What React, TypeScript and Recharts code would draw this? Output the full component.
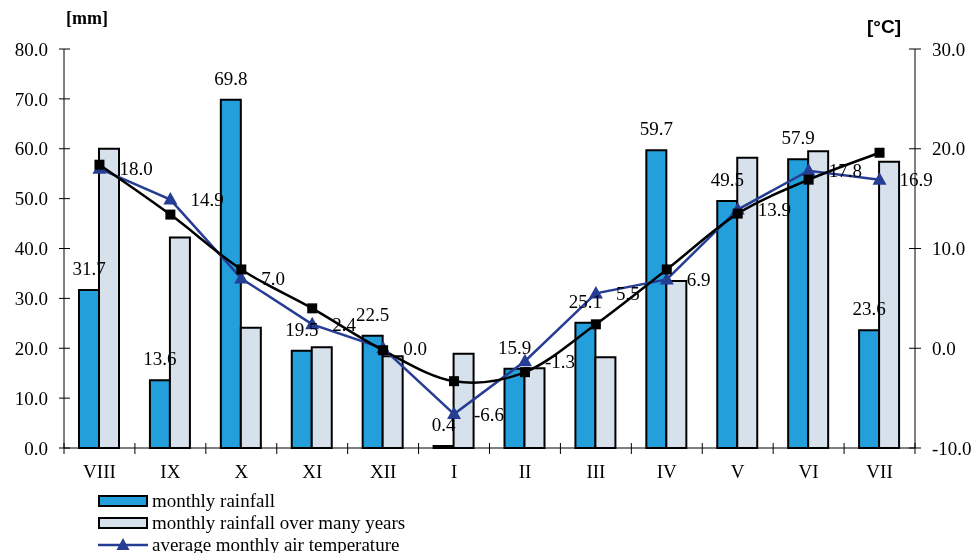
import React from 'react';
import { ComposedChart, Bar, Line, XAxis, YAxis, LabelList, Legend } from 'recharts';

const months = ['VIII', 'IX', 'X', 'XI', 'XII', 'I', 'II', 'III', 'IV', 'V', 'VI', 'VII'];
const rainfall = [31.7, 13.6, 69.8, 19.5, 22.5, 0.4, 15.9, 25.1, 59.7, 49.5, 57.9, 23.6];
const rainfallLongTerm = [60.0, 42.2, 24.1, 20.2, 18.4, 18.9, 16.0, 18.2, 33.5, 58.2, 59.5, 57.4];
const temperature = [18.0, 14.9, 7.0, 2.4, 0.0, -6.6, -1.3, 5.5, 6.9, 13.9, 17.8, 16.9];
const temperatureLongTerm = [18.4, 13.4, 7.9, 4.0, -0.2, -3.3, -2.4, 2.4, 7.9, 13.5, 16.9, 19.6];
const rainTicks = [0, 10, 20, 30, 40, 50, 60, 70, 80];
const tempTicks = [-10, 0, 10, 20, 30];
const legendLabels = ['monthly rainfall', 'monthly rainfall over many years', 'average monthly air temperature'];

const data = months.map((m, i) => ({
  month: m,
  rain: rainfall[i],
  rainLT: rainfallLongTerm[i],
  temp: temperature[i],
  tempLT: temperatureLongTerm[i],
}));

const W = 966;
const H = 545;
const LEFT_W = 56;
const RIGHT_W = 59;
const FONT = '"Liberation Serif", "Times New Roman", serif';
const FS = 19;
const BLUE = '#23A0DB';
const LIGHT = '#D7E1EC';
const LINE_BLUE = '#263D94';
const STEP = (W - LEFT_W - RIGHT_W) / months.length;

const fmt = (v: number) => Number(v).toFixed(1);

// Smooth curve similar to a spreadsheet's "smoothed line" (Catmull-Rom through the points)
const smoothCurve = (context: any) => {
  let pts: number[][] = [];
  return {
    areaStart() {},
    areaEnd() {},
    lineStart() {
      pts = [];
    },
    point(x: number, y: number) {
      pts.push([+x, +y]);
    },
    lineEnd() {
      if (!pts.length) return;
      context.moveTo(pts[0][0], pts[0][1]);
      const t = 1 / 6;
      for (let i = 0; i < pts.length - 1; i++) {
        const p0 = pts[i - 1] || pts[i];
        const p1 = pts[i];
        const p2 = pts[i + 1];
        const p3 = pts[i + 2] || p2;
        context.bezierCurveTo(
          p1[0] + (p2[0] - p0[0]) * t,
          p1[1] + (p2[1] - p0[1]) * t,
          p2[0] - (p3[0] - p1[0]) * t,
          p2[1] - (p3[1] - p1[1]) * t,
          p2[0],
          p2[1]
        );
      }
    },
  };
};

const XTick = (props: any) => {
  const { x, y, payload, index } = props;
  return (
    <g>
      <line x1={x - STEP / 2} x2={x - STEP / 2} y1={y - 5} y2={y + 6} stroke="#000" strokeWidth={1} />
      {index === months.length - 1 && (
        <line x1={x + STEP / 2} x2={x + STEP / 2} y1={y - 5} y2={y + 6} stroke="#000" strokeWidth={1} />
      )}
      <text x={x} y={y + 30} textAnchor="middle" fontFamily={FONT} fontSize={FS} fill="#000">
        {payload.value}
      </text>
    </g>
  );
};

const LeftTick = (props: any) => {
  const { x, y, payload } = props;
  const ax = x + 16;
  return (
    <g>
      <line x1={ax - 5} x2={ax + 6} y1={y} y2={y} stroke="#000" strokeWidth={1} />
      <text x={x} y={y} dy="0.35em" textAnchor="end" fontFamily={FONT} fontSize={FS} fill="#000">
        {fmt(payload.value)}
      </text>
    </g>
  );
};

const RightTick = (props: any) => {
  const { x, y, payload } = props;
  const ax = x - 17;
  return (
    <g>
      <line x1={ax - 6} x2={ax + 6} y1={y} y2={y} stroke="#000" strokeWidth={1} />
      <text x={x} y={y} dy="0.35em" textAnchor="start" fontFamily={FONT} fontSize={FS} fill="#000">
        {fmt(payload.value)}
      </text>
    </g>
  );
};

const TriangleDot = (props: any) => {
  const { cx, cy } = props;
  if (cx == null || cy == null) return null;
  return <path d={`M${cx},${cy - 7.5} L${cx + 7},${cy + 5} L${cx - 7},${cy + 5} Z`} fill={LINE_BLUE} />;
};

const SquareDot = (props: any) => {
  const { cx, cy } = props;
  if (cx == null || cy == null) return null;
  return <rect x={cx - 5} y={cy - 5} width={10} height={10} fill="#000" />;
};

const LegendContent = () => (
  <svg width={420} height={70} style={{ display: 'block', overflow: 'visible' }}>
    <rect x={1} y={6} width={48} height={10} fill={BLUE} stroke="#000" strokeWidth={2} />
    <text x={54} y={17} fontFamily={FONT} fontSize={FS} fill="#000">{legendLabels[0]}</text>
    <rect x={1} y={28} width={48} height={10} fill={LIGHT} stroke="#000" strokeWidth={2} />
    <text x={54} y={39} fontFamily={FONT} fontSize={FS} fill="#000">{legendLabels[1]}</text>
    <line x1={0} x2={50} y1={55} y2={55} stroke={LINE_BLUE} strokeWidth={2.5} />
    <path d="M25,48 L31.5,60 L18.5,60 Z" fill={LINE_BLUE} />
    <text x={54} y={61} fontFamily={FONT} fontSize={FS} fill="#000">{legendLabels[2]}</text>
  </svg>
);

const MmLabel = (props: any) => {
  const vb = props.viewBox || {};
  return (
    <text x={vb.x + vb.width + 2} y={vb.y - 25} fontFamily={FONT} fontWeight="bold" fontSize={18} fill="#000">
      [mm]
    </text>
  );
};

const CLabel = (props: any) => {
  const vb = props.viewBox || {};
  return (
    <text x={vb.x - 14} y={vb.y - 16} textAnchor="end" fontFamily='"Liberation Sans", Arial, sans-serif' fontWeight="bold" fontSize={19} fill="#000">
      [°C]
    </text>
  );
};

export default function App() {
  return (
    <div style={{ position: 'fixed', top: 8, left: 8, width: W, height: H }}>
      <ComposedChart
        width={W}
        height={H}
        data={data}
        margin={{ top: 41, right: 0, bottom: 75, left: 0 }}
        barGap={0}
        style={{ overflow: 'visible' }}
      >
        <XAxis
          dataKey="month"
          xAxisId="m"
          height={30}
          tickLine={false}
          tickSize={0}
          tickMargin={0}
          axisLine={{ stroke: '#000', strokeWidth: 1 }}
          tick={<XTick />}
          interval={0}
        />
        <YAxis
          yAxisId="rain"
          orientation="left"
          width={LEFT_W}
          domain={[0, 80]}
          ticks={rainTicks}
          tickLine={false}
          tickSize={0}
          tickMargin={16}
          axisLine={{ stroke: '#000', strokeWidth: 1 }}
          tick={<LeftTick />}
          interval={0}
          label={{ content: <MmLabel /> }}
        />
        <YAxis
          yAxisId="temp"
          orientation="right"
          width={RIGHT_W}
          domain={[-10, 30]}
          ticks={tempTicks}
          tickLine={false}
          tickSize={0}
          tickMargin={17}
          axisLine={{ stroke: '#000', strokeWidth: 1 }}
          tick={<RightTick />}
          interval={0}
          label={{ content: <CLabel /> }}
        />
        <Bar
          dataKey="rain"
          xAxisId="m"
          yAxisId="rain"
          barSize={20}
          fill={BLUE}
          stroke="#000"
          strokeWidth={2}
          isAnimationActive={false}
        >
          <LabelList
            dataKey="rain"
            position="top"
            offset={15}
            formatter={(v: any) => fmt(v)}
            style={{ fontFamily: FONT, fontSize: FS, fill: '#000' }}
          />
        </Bar>
        <Bar
          dataKey="rainLT"
          xAxisId="m"
          yAxisId="rain"
          barSize={20}
          fill={LIGHT}
          stroke="#000"
          strokeWidth={2}
          isAnimationActive={false}
        />
        <Line
          dataKey="temp"
          xAxisId="m"
          yAxisId="temp"
          type="linear"
          stroke={LINE_BLUE}
          strokeWidth={2.5}
          dot={<TriangleDot />}
          activeDot={false}
          isAnimationActive={false}
        >
          <LabelList
            dataKey="temp"
            position="right"
            offset={20}
            formatter={(v: any) => fmt(v)}
            style={{ fontFamily: FONT, fontSize: FS, fill: '#000' }}
          />
        </Line>
        <Line
          dataKey="tempLT"
          xAxisId="m"
          yAxisId="temp"
          type={smoothCurve as any}
          stroke="#000"
          strokeWidth={2.5}
          dot={<SquareDot />}
          activeDot={false}
          isAnimationActive={false}
        />
        <Legend
          layout="horizontal"
          verticalAlign="middle"
          align="center"
          content={<LegendContent />}
          wrapperStyle={{ left: 90, top: 482, width: 420, height: 70 }}
        />
      </ComposedChart>
    </div>
  );
}
